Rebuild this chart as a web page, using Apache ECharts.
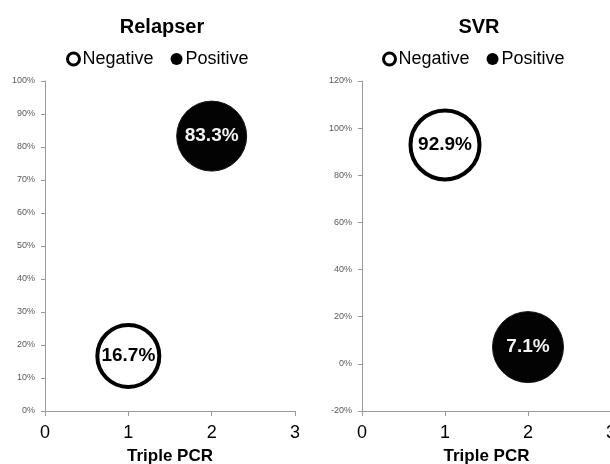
<!DOCTYPE html>
<html>
<head>
<meta charset="utf-8">
<script src="https://cdn.jsdelivr.net/npm/echarts@6/dist/echarts.min.js"></script>
<style>
  html, body { margin: 0; padding: 0; background: #fff; overflow: hidden; }
  #chart { width: 610px; height: 464px; }
</style>
</head>
<body>
<div id="chart"></div>
<script>
// valores (x = Triple PCR, y = %)
var relapserNegative = [[1, 16.7]];
var relapserPositive = [[2, 83.3]];
var svrNegative = [[1, 92.9]];
var svrPositive = [[2, 7.1]];
var titles = ['Relapser', 'SVR'];
var legendNames = ['Negative', 'Positive'];

var font = 'Arial, "Liberation Sans", sans-serif';

function xAxisCfg(idx) {
    return {
        gridIndex: idx,
        type: 'value',
        min: 0, max: 3, interval: 1,
        name: 'Triple PCR',
        nameLocation: 'middle',
        nameGap: 37,
        nameTextStyle: { fontFamily: font, fontSize: 17, fontWeight: 'bold', color: '#000' },
        axisLine: { show: true, onZero: false, lineStyle: { color: '#9a9a9a', width: 1 } },
        axisTick: { show: true, length: 5, lineStyle: { color: '#9a9a9a' } },
        axisLabel: { fontFamily: font, fontSize: 18, color: '#000', margin: 13 },
        splitLine: { show: false }
    };
}

function yAxisCfg(idx, min, max, step) {
    return {
        gridIndex: idx,
        type: 'value',
        min: min, max: max, interval: step,
        axisLine: { show: true, onZero: false, lineStyle: { color: '#9a9a9a', width: 1 } },
        axisTick: { show: true, length: 4, lineStyle: { color: '#9a9a9a' } },
        axisLabel: { fontFamily: font, fontSize: 9, color: '#595959', margin: 10, formatter: '{value}%' },
        splitLine: { show: false }
    };
}

function bubble(name, idx, data, filled, size) {
    return {
        name: name,
        type: 'scatter',
        xAxisIndex: idx,
        yAxisIndex: idx,
        data: data,
        symbol: 'circle',
        symbolSize: size,
        itemStyle: filled
            ? { color: '#030303', borderColor: '#1a1a1a', borderWidth: 1, opacity: 1 }
            : { color: '#fff', borderColor: '#000', borderWidth: 4, opacity: 1 },
        label: {
            show: true,
            position: 'inside',
            formatter: function (p) { return p.value[1].toFixed(1) + '%'; },
            fontFamily: font,
            fontSize: 19,
            fontWeight: 'bold',
            color: filled ? '#f2f2f2' : '#000'
        },
        emphasis: { disabled: true }
    };
}

function legendCfg(left) {
    return {
        left: left,
        top: 45,
        itemGap: 17,
        itemWidth: 12,
        itemHeight: 12,
        textStyle: { fontFamily: font, fontSize: 18, color: '#000', padding: [0, 0, 0, -2] },
        data: [
            { name: legendNames[0], icon: 'circle', itemStyle: { color: '#fff', borderColor: '#000', borderWidth: 3, opacity: 1 } },
            { name: legendNames[1], icon: 'circle', itemStyle: { color: '#000', borderWidth: 0, opacity: 1 } }
        ]
    };
}

var chart = echarts.init(document.getElementById('chart'));
var option = {
    backgroundColor: '#fff',
    animation: false,
    title: [
        { text: titles[0], left: 157, top: 12, textAlign: 'center',
          textStyle: { fontFamily: font, fontSize: 20, fontWeight: 'bold', color: '#000' } },
        { text: titles[1], left: 474, top: 12, textAlign: 'center',
          textStyle: { fontFamily: font, fontSize: 20, fontWeight: 'bold', color: '#000' } }
    ],
    legend: [legendCfg(61), legendCfg(377)],
    grid: [
        { left: 45, top: 81, width: 250, height: 330, outerBoundsMode: 'none' },
        { left: 362, top: 81, width: 249, height: 330, outerBoundsMode: 'none' }
    ],
    xAxis: [xAxisCfg(0), xAxisCfg(1)],
    yAxis: [yAxisCfg(0, 0, 100, 10), yAxisCfg(1, -20, 120, 20)],
    series: [
        bubble('Negative', 0, relapserNegative, false, 62),
        bubble('Positive', 0, relapserPositive, true, 70),
        bubble('Negative', 1, svrNegative, false, 69),
        bubble('Positive', 1, svrPositive, true, 71)
    ]
};
chart.setOption(option);
</script>
</body>
</html>
